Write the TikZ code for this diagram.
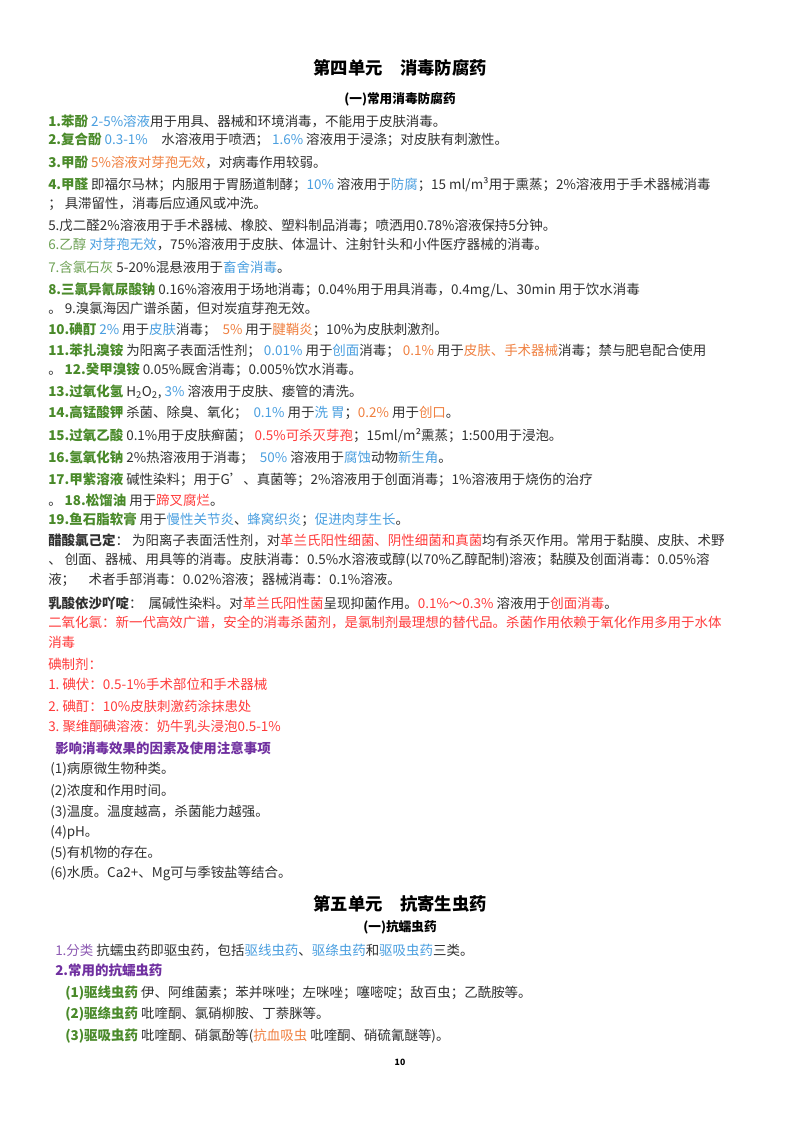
\documentclass[tikz,border=0pt]{standalone}
\usepackage{fontspec}
\setmainfont{Noto Sans CJK SC}
\definecolor{gn}{HTML}{4A8A2A}
\definecolor{bl}{HTML}{4A9FE0}
\definecolor{og}{HTML}{F08040}
\definecolor{rd}{HTML}{FF3B3B}
\definecolor{pp}{HTML}{7030A0}
\definecolor{tx}{HTML}{303030}
\newcommand\Gc[1]{\textcolor{gn}{\bfseries #1}}
\newcommand\Bc[1]{\textcolor{bl}{#1}}
\newcommand\Oc[1]{\textcolor{og}{#1}}
\newcommand\Rc[1]{\textcolor{rd}{#1}}
\begin{document}
\begin{tikzpicture}[x=0.75pt,y=-0.75pt,
  ln/.style={anchor=west,inner sep=0pt,font=\fontsize{10.1}{12}\selectfont,text=tx},
  ti/.style={anchor=center,inner sep=0pt,font=\fontsize{13}{15}\bfseries,text=black},
  st/.style={anchor=center,inner sep=0pt,font=\fontsize{9.5}{11}\bfseries,text=black}]
\useasboundingbox[fill=white] (0,0) rectangle (800,1131);
\node[ti] (t1) at (400,68) {第四单元\quad 消毒防腐药};
\node[st] (s1) at (400,99) {(一)常用消毒防腐药};
\node[ln] (a1) at (48,121) {\Gc{1.苯酚} \Bc{2-5\%溶液}用于用具、器械和环境消毒，不能用于皮肤消毒。};
\node[ln] (a2) at (48,140) {\Gc{2.复合酚} \Bc{0.3-1\%}\quad 水溶液用于喷洒；\ \Bc{1.6\%} 溶液用于浸涤；对皮肤有刺激性。};
\node[ln] (a3) at (48,162) {\Gc{3.甲酚} \Oc{5\%溶液对芽孢无效}，对病毒作用较弱。};
\node[ln] (a4) at (48,185) {\Gc{4.甲醛}\ 即福尔马林；内服用于胃肠道制酵；\Bc{10\%} 溶液用于\Bc{防腐}；15 ml/m³用于熏蒸；2\%溶液用于手术器械消毒};
\node[ln] (a4b) at (48,204) {；\ 具滞留性，消毒后应通风或冲洗。};
\node[ln] (a5) at (48,226) {5.戊二醛2\%溶液用于手术器械、橡胶、塑料制品消毒；喷洒用0.78\%溶液保持5分钟。};
\node[ln] (a6) at (48,245) {\textcolor{gn!80}{6.乙醇}\ \Bc{对芽孢无效}，75\%溶液用于皮肤、体温计、注射针头和小件医疗器械的消毒。};
\node[ln] (a7) at (48,267) {\textcolor{gn!80}{7.含氯石灰} 5-20\%混悬液用于\Bc{畜舍消毒}。};
\node[ln] (a8) at (48,290) {\Gc{8.三氯异氰尿酸钠} 0.16\%溶液用于场地消毒；0.04\%用于用具消毒，0.4mg/L、30min 用于饮水消毒};
\node[ln] (a8b) at (48,309) {。\ 9.溴氯海因广谱杀菌，但对炭疽芽孢无效。};
\node[ln] (a10) at (48,330) {\Gc{10.碘酊}\ \Bc{2\%} 用于\Bc{皮肤}消毒；\ \ \Oc{5\%} 用于\Oc{腱鞘炎}；10\%为皮肤刺激剂。};
\node[ln] (a11) at (48,351) {\Gc{11.苯扎溴铵}\ 为阳离子表面活性剂；\ \Bc{0.01\%} 用于\Bc{创面}消毒；\ \Oc{0.1\%} 用于\Oc{皮肤、手术器械}消毒；禁与肥皂配合使用};
\node[ln] (a12) at (48,370) {。\ \Gc{12.癸甲溴铵} 0.05\%厩舍消毒；0.005\%饮水消毒。};
\node[ln] (a13) at (48,392) {\Gc{13.过氧化氢} H\textsubscript{2}O\textsubscript{2},\ \Bc{3\%} 溶液用于皮肤、瘘管的清洗。};
\node[ln] (a14) at (48,413) {\Gc{14.高锰酸钾} 杀菌、除臭、氧化；\ \ \Bc{0.1\%} 用于\Bc{洗\ 胃}；\Oc{0.2\%} 用于\Oc{创口}。};
\node[ln] (a15) at (48,436) {\Gc{15.过氧乙酸} 0.1\%用于皮肤癣菌；\ \Rc{0.5\%可杀灭芽孢}；15ml/m²熏蒸；1:500用于浸泡。};
\node[ln] (a16) at (48,458) {\Gc{16.氢氧化钠} 2\%热溶液用于消毒；\ \ \Bc{50\%} 溶液用于\Bc{腐蚀}动物\Bc{新生角}。};
\node[ln] (a17) at (48,480) {\Gc{17.甲紫溶液} 碱性染料；用于G'、真菌等；2\%溶液用于创面消毒；1\%溶液用于烧伤的治疗};
\node[ln] (a18) at (48,500) {。\ \Gc{18.松馏油}\ 用于\Rc{蹄叉腐烂}。};
\node[ln] (a19) at (48,520) {\Gc{19.鱼石脂软膏}\ 用于\Bc{慢性关节炎}、\Bc{蜂窝织炎}；\Bc{促进肉芽生长}。};
\node[ln] (b1) at (48,540) {\textbf{醋酸氯己定}：\ 为阳离子表面活性剂，对\Rc{革兰氏阳性细菌、阴性细菌和真菌}均有杀灭作用。常用于黏膜、皮肤、术野};
\node[ln] (b2) at (48,560) {、\ 创面、器械、用具等的消毒。皮肤消毒：0.5\%水溶液或醇(以70\%乙醇配制)溶液；黏膜及创面消毒：0.05\%溶};
\node[ln] (b3) at (48,580) {液；\quad 术者手部消毒：0.02\%溶液；器械消毒：0.1\%溶液。};
\node[ln] (c1) at (48,603) {\textbf{乳酸依沙吖啶}：\ \ 属碱性染料。对\Rc{革兰氏阳性菌}呈现抑菌作用。\Rc{0.1\%～0.3\%} 溶液用于\Rc{创面消毒}。};
\node[ln,text=rd] (c2) at (48,622) {二氧化氯：新一代高效广谱，安全的消毒杀菌剂，是氯制剂最理想的替代品。杀菌作用依赖于氧化作用多用于水体};
\node[ln,text=rd] (c3) at (48,642) {消毒};
\node[ln,text=rd] (c4) at (48,664) {碘制剂：};
\node[ln,text=rd] (c5) at (48,684) {1.\ 碘伏：0.5-1\%手术部位和手术器械};
\node[ln,text=rd] (c6) at (48,706) {2.\ 碘酊：10\%皮肤刺激药涂抹患处};
\node[ln,text=rd] (c7) at (48,726) {3.\ 聚维酮碘溶液：奶牛乳头浸泡0.5-1\%};
\node[ln,text=pp,font=\fontsize{10.1}{12}\bfseries] (d0) at (55,748) {影响消毒效果的因素及使用注意事项};
\node[ln] (d1) at (50,769) {(1)病原微生物种类。};
\node[ln] (d2) at (50,791) {(2)浓度和作用时间。};
\node[ln] (d3) at (50,812) {(3)温度。温度越高，杀菌能力越强。};
\node[ln] (d4) at (50,833) {(4)pH。};
\node[ln] (d5) at (50,853) {(5)有机物的存在。};
\node[ln] (d6) at (50,873) {(6)水质。Ca2+、Mg可与季铵盐等结合。};
\node[ti] (t2) at (400,904) {第五单元\quad 抗寄生虫药};
\node[st] (s2) at (400,927) {(一)抗蠕虫药};
\node[ln] (e1) at (55,950) {\textcolor{pp!80}{1.分类} 抗蠕虫药即驱虫药，包括\Bc{驱线虫药}、\Bc{驱绦虫药}和\Bc{驱吸虫药}三类。};
\node[ln,text=pp,font=\fontsize{10.1}{12}\bfseries] (e2) at (55,970) {2.常用的抗蠕虫药};
\node[ln] (e3) at (65,993) {\Gc{(1)驱线虫药} 伊、阿维菌素；苯并咪唑；左咪唑；噻嘧啶；敌百虫；乙酰胺等。};
\node[ln] (e4) at (65,1014) {\Gc{(2)驱绦虫药} 吡喹酮、氯硝柳胺、丁萘脒等。};
\node[ln] (e5) at (65,1036) {\Gc{(3)驱吸虫药} 吡喹酮、硝氯酚等(\Oc{抗血吸虫}\ 吡喹酮、硝硫氰醚等)。};
\node[anchor=center,inner sep=0pt,font=\fontsize{6.5}{8}\bfseries] (pn) at (400,1062) {10};
\end{tikzpicture}
\end{document}
